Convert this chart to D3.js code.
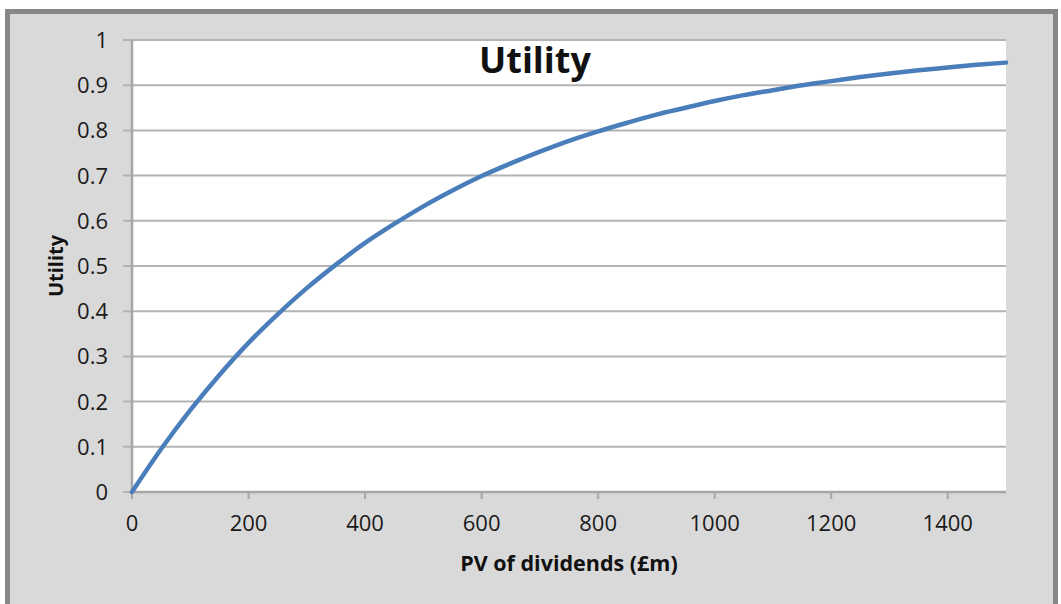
<!DOCTYPE html>
<html>
<head>
<meta charset="utf-8">
<script src="https://cdn.jsdelivr.net/npm/d3@7"></script>
<style>
  body { margin: 0; background: #fff; }
  svg { display: block; font-family: "Open Sans", sans-serif; }
</style>
</head>
<body>
<svg id="chart"></svg>
<script>
const width = 1061;
const height = 604;

// Values
const pvDividends = [0, 50, 100, 150, 200, 250, 300, 350, 400, 450, 500, 550, 600, 650, 700, 750,
  800, 850, 900, 950, 1000, 1050, 1100, 1150, 1200, 1250, 1300, 1350, 1400, 1450, 1500];
const utility = [0, 0.095, 0.181, 0.259, 0.33, 0.393, 0.451, 0.503, 0.551, 0.593, 0.632, 0.667, 0.699, 0.727, 0.753, 0.777,
  0.798, 0.817, 0.835, 0.85, 0.865, 0.878, 0.889, 0.9, 0.909, 0.918, 0.926, 0.933, 0.939, 0.945, 0.95];
const xTicks = [0, 200, 400, 600, 800, 1000, 1200, 1400];
const yTicks = [0, 0.1, 0.2, 0.3, 0.4, 0.5, 0.6, 0.7, 0.8, 0.9, 1];

const plot = { left: 132, top: 40, right: 1006, bottom: 492 };

const svg = d3.select("#chart")
  .attr("width", width)
  .attr("height", height);

// Gray chart background with frame
svg.append("rect")
  .attr("x", 7.5).attr("y", 11.5)
  .attr("width", 1048).attr("height", 600)
  .attr("fill", "#d9d9d9")
  .attr("stroke", "#878787")
  .attr("stroke-width", 5);

// Plot area
svg.append("rect")
  .attr("x", plot.left).attr("y", plot.top)
  .attr("width", plot.right - plot.left).attr("height", plot.bottom - plot.top)
  .attr("fill", "#fff");

const x = d3.scaleLinear().domain([0, 1500]).range([plot.left, plot.right]);
const y = d3.scaleLinear().domain([0, 1]).range([plot.bottom, plot.top]);

// Horizontal gridlines, extended left as tick marks
svg.append("g")
  .selectAll("line")
  .data(yTicks)
  .enter().append("line")
  .attr("x1", plot.left - 9)
  .attr("x2", plot.right)
  .attr("y1", d => y(d))
  .attr("y2", d => y(d))
  .attr("stroke", "#b3b3b3")
  .attr("stroke-width", 2);

// Y tick labels
svg.append("g")
  .selectAll("text")
  .data(yTicks)
  .enter().append("text")
  .attr("x", 108)
  .attr("y", d => y(d) + 8)
  .attr("text-anchor", "end")
  .attr("font-size", 22)
  .attr("fill", "#1a1a1a")
  .text(d => d3.format("")(d));

// Y axis line
svg.append("line")
  .attr("x1", plot.left).attr("x2", plot.left)
  .attr("y1", plot.top).attr("y2", plot.bottom)
  .attr("stroke", "#a6a6a6")
  .attr("stroke-width", 2.5);

// X axis line and ticks
svg.append("line")
  .attr("x1", plot.left).attr("x2", plot.right)
  .attr("y1", plot.bottom).attr("y2", plot.bottom)
  .attr("stroke", "#a6a6a6")
  .attr("stroke-width", 2.5);

svg.append("g")
  .selectAll("line")
  .data(xTicks)
  .enter().append("line")
  .attr("x1", d => x(d)).attr("x2", d => x(d))
  .attr("y1", plot.bottom).attr("y2", plot.bottom + 7)
  .attr("stroke", "#a6a6a6")
  .attr("stroke-width", 2);

svg.append("g")
  .selectAll("text")
  .data(xTicks)
  .enter().append("text")
  .attr("x", d => x(d))
  .attr("y", 531)
  .attr("text-anchor", "middle")
  .attr("font-size", 22)
  .attr("fill", "#1a1a1a")
  .text(d => d);

// Utility curve
const line = d3.line()
  .x(d => x(d[0]))
  .y(d => y(d[1]))
  .curve(d3.curveMonotoneX);

svg.append("path")
  .datum(pvDividends.map((v, i) => [v, utility[i]]))
  .attr("d", line)
  .attr("fill", "none")
  .attr("stroke", "#4a7ebb")
  .attr("stroke-width", 4.5)
  .attr("stroke-linecap", "round");

// Titles
svg.append("text")
  .attr("x", 535)
  .attr("y", 73)
  .attr("text-anchor", "middle")
  .attr("font-size", 36)
  .attr("font-weight", "bold")
  .attr("fill", "#111")
  .text("Utility");

svg.append("text")
  .attr("x", (plot.left + plot.right) / 2)
  .attr("y", 571)
  .attr("text-anchor", "middle")
  .attr("font-size", 21.5)
  .attr("font-weight", "bold")
  .attr("fill", "#111")
  .text("PV of dividends (£m)");

svg.append("text")
  .attr("transform", "translate(63,266) rotate(-90)")
  .attr("text-anchor", "middle")
  .attr("font-size", 20)
  .attr("font-weight", "bold")
  .attr("fill", "#111")
  .text("Utility");
</script>
</body>
</html>
